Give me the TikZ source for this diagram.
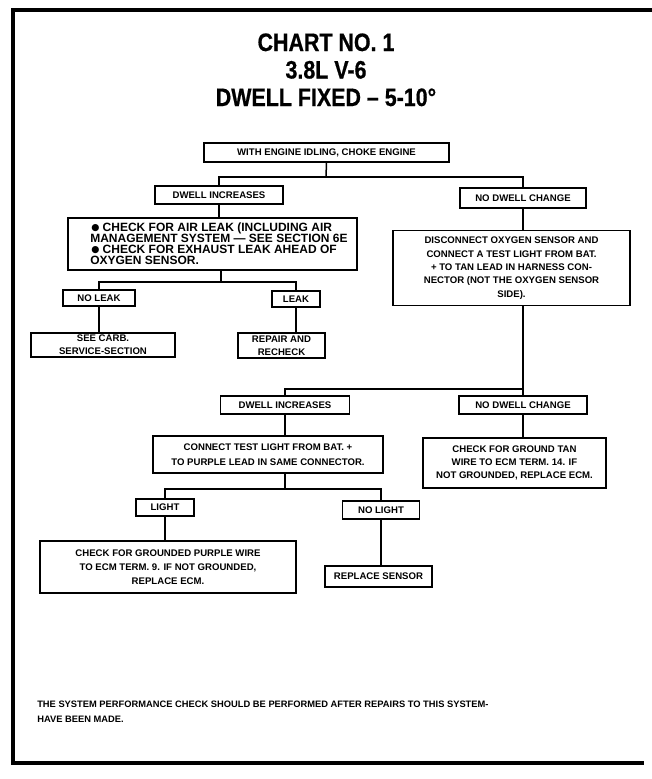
\documentclass[tikz,border=0pt]{standalone}
\usepackage{fontspec}
\setmainfont{Liberation Sans}
\newfontfamily\titlefont{Liberation Sans Bold}[FakeStretch=0.85, FakeBold=0.6]
\newfontfamily\boxfont{Liberation Sans Bold}
\newfontfamily\dotfont{DejaVu Sans}
\newdimen\pxu \pxu=0.75pt
\newcommand{\blt}{\raisebox{0.6pt}{\dotfont\fontsize{7}{7}\selectfont ●}}

\begin{document}
\begin{tikzpicture}[x=0.75pt, y=-0.75pt,
  box/.style={draw, line width=1.5\pxu, inner sep=0pt, align=center,
              font={\boxfont\fontsize{7.2}{10}\selectfont}},
  link/.style={draw, line width=1.5\pxu},
  headline/.style={anchor=base, inner sep=0pt,
              font={\titlefont\fontsize{18.9}{20}\selectfont}},
  note/.style={anchor=base west, inner sep=0pt,
              font={\boxfont\fontsize{7}{9}\selectfont}}]

\useasboundingbox (0,0) rectangle (652,779);

% frame (open on the right)
\draw[line width=4\pxu] (652,9.5) -- (12.5,9.5) -- (12.5,763) -- (644,763);

% heading
\node[headline] (t1) at (326,51)  {CHART NO. 1};
\node[headline] (t2) at (326,78.5) {3.8L V-6};
\node[headline] (t3) at (326,106) {DWELL FIXED – 5-10°};

% boxes
\node[box, minimum width=245\pxu, minimum height=19\pxu] (idle) at (326.5,152.5) {WITH ENGINE IDLING, CHOKE ENGINE};
\node[box, minimum width=128\pxu, minimum height=18\pxu] (di1) at (219,195) {DWELL INCREASES};
\node[box, minimum width=126\pxu, minimum height=20\pxu] (nd1) at (523,198) {NO DWELL CHANGE};

\node[box, minimum width=289\pxu, minimum height=52\pxu] (leak) at (212.5,244) {};
\node[anchor=west, inner sep=0pt, align=left,
      font={\boxfont\fontsize{9}{8.2}\selectfont}] (leaktext) at (90,243.5)
  {\hspace*{1\pxu}\blt\ CHECK FOR AIR LEAK (INCLUDING AIR\\
   MANAGEMENT SYSTEM — SEE SECTION 6E\\
   \hspace*{1\pxu}\blt\ CHECK FOR EXHAUST LEAK AHEAD OF\\
   OXYGEN SENSOR.};

\node[box, minimum width=72\pxu, minimum height=16\pxu] (noleak) at (99,298) {NO LEAK};
\node[box, minimum width=48\pxu, minimum height=16\pxu] (leakb) at (296,299) {LEAK};
\node[box, minimum width=144\pxu, minimum height=24\pxu,
      font={\boxfont\fontsize{7.2}{9.5}\selectfont}] (carb) at (103,345) {SEE CARB.\\SERVICE-SECTION};
\node[box, minimum width=87\pxu, minimum height=25\pxu,
      font={\boxfont\fontsize{7.2}{9.5}\selectfont}] (repair) at (281.5,345.5) {REPAIR AND\\RECHECK};

\node[box, minimum width=237\pxu, minimum height=75\pxu] (disc) at (511.5,268)
  {DISCONNECT OXYGEN SENSOR AND\\
   CONNECT A TEST LIGHT FROM BAT.\\
   + TO TAN LEAD IN HARNESS CON-\\
   NECTOR (NOT THE OXYGEN SENSOR\\
   SIDE).};

\node[box, minimum width=129\pxu, minimum height=18\pxu] (di2) at (285,405) {DWELL INCREASES};
\node[box, minimum width=128\pxu, minimum height=18\pxu] (nd2) at (523,405) {NO DWELL CHANGE};

\node[box, minimum width=230\pxu, minimum height=37\pxu,
      font={\boxfont\fontsize{7.2}{11}\selectfont}] (conn) at (268,454.5)
  {CONNECT TEST LIGHT FROM BAT. +\\TO PURPLE LEAD IN SAME CONNECTOR.};
\node[box, minimum width=183\pxu, minimum height=50\pxu] (gnd) at (514.5,463)
  {CHECK FOR GROUND TAN\\WIRE TO ECM TERM. 14. IF\\NOT GROUNDED, REPLACE ECM.};

\node[box, minimum width=58\pxu, minimum height=17\pxu] (light) at (165,507.5) {LIGHT};
\node[box, minimum width=77\pxu, minimum height=18\pxu] (nolight) at (381,510) {NO LIGHT};

\node[box, minimum width=256\pxu, minimum height=52\pxu,
      font={\boxfont\fontsize{7.2}{10.5}\selectfont}] (purp) at (168,567)
  {CHECK FOR GROUNDED PURPLE WIRE\\TO ECM TERM. 9. IF NOT GROUNDED,\\REPLACE ECM.};
\node[box, minimum width=107\pxu, minimum height=21\pxu] (repl) at (378.5,576.5) {REPLACE SENSOR};

% branch points
\coordinate (j1) at (326,177);
\coordinate (j2) at (221,282);
\coordinate (j3) at (523,389);
\coordinate (j4) at (285,489);

% connectors
\draw[link] (idle.south) -- (j1);
\draw[link] (di1.north) |- (j1) -| (nd1.north);
\draw[link] (di1.south) -- (di1.south |- leak.north);
\draw[link] (j2 |- leak.south) -- (j2);
\draw[link] (noleak.north) |- (j2) -| (leakb.north);
\draw[link] (noleak.south) -- (noleak.south |- carb.north);
\draw[link] (leakb.south) -- (leakb.south |- repair.north);
\draw[link] (nd1.south) -- (nd1.south |- disc.north);
\draw[link] (nd2.north |- disc.south) -- (nd2.north);
\draw[link] (di2.north) |- (j3);
\draw[link] (di2.south) -- (di2.south |- conn.north);
\draw[link] (nd2.south) -- (nd2.south |- gnd.north);
\draw[link] (j4 |- conn.south) -- (j4);
\draw[link] (light.north) |- (j4) -| (nolight.north);
\draw[link] (light.south) -- (light.south |- purp.north);
\draw[link] (nolight.south) -- (nolight.south |- repl.north);

% closing note
\node[note] (n1) at (37,707) {THE SYSTEM PERFORMANCE CHECK SHOULD BE PERFORMED AFTER REPAIRS TO THIS SYSTEM-};
\node[note] (n2) at (37,722) {HAVE BEEN MADE.};
\end{tikzpicture}
\end{document}
